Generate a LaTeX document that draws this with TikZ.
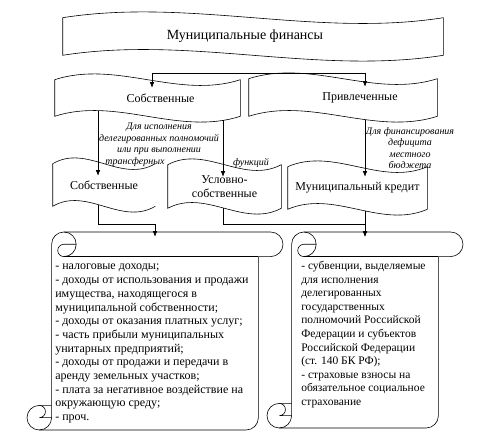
\documentclass[tikz,border=0pt]{standalone}
\usepackage{fontspec}
\setmainfont{Liberation Serif}
\usetikzlibrary{positioning,arrows.meta,calc}

\newcommand\wavepath[2][--]{%
\draw (#2.north west) .. controls ($(#2.north west)!1/3!(#2.north east)+(0,-20)$) and ($(#2.north west)!2/3!(#2.north east)+(0,20)$) .. (#2.north east) #1 (#2.south east) .. controls ($(#2.south west)!2/3!(#2.south east)+(0,20)$) and ($(#2.south west)!1/3!(#2.south east)+(0,-20)$) .. (#2.south west) -- (#2.north west);}

\newcommand\scrollpath[4]{%
\draw ({#1+24.6},{#4-24.6}) -- ({#1+24.6},{#2+12.3}) arc[start angle=180,delta angle=90,radius=12.3] -- ({#3-12.3},#2) arc[start angle=270,delta angle=180,radius=12.3] -- ({#3-24.6},{#2+24.6}) -- ({#3-24.6},{#4-12.3}) arc[start angle=0,delta angle=90,radius=12.3] -- ({#1+12.3},#4) arc[start angle=90,delta angle=180,radius=12.3] -- cycle;
\draw ({#1+36.9},#2) arc[start angle=270,delta angle=180,radius=12.3] arc[start angle=90,delta angle=180,radius=6.15] -- ({#1+49.2},{#2+12.3});
\draw ({#3-24.6},{#2+24.6}) -- ({#1+36.9},{#2+24.6});
\draw ({#1+12.3},{#4-24.6}) arc[start angle=270,delta angle=180,radius=6.15] -- ({#1+24.6},{#4-12.3});
\draw ({#1+12.3},#4) arc[start angle=90,delta angle=-90,radius=12.3] -- ({#1+24.6},{#4-24.6});}

\begin{document}
\begin{tikzpicture}[x=1pt,y=-1pt,line width=0.6pt,>={Latex[length=5.5pt,width=4.5pt]},wave/.style={inner sep=0pt,align=center,font=\fontsize{12}{13.5}\selectfont},lbl/.style={inner sep=0pt,align=center,font=\fontsize{10}{11.5}\selectfont\itshape},list/.style={anchor=north west,inner sep=0pt,align=left}]
\useasboundingbox (0,0) rectangle (483,438);
\node[wave,minimum width=380pt,minimum height=37pt,font=\fontsize{14}{16}\selectfont] (fin) at (253,36.5) {\hspace*{-16pt}Муниципальные финансы};
\node[wave,minimum width=185pt,minimum height=36pt] (own2) at (147.5,98) {\hspace*{26pt}Собственные};
\node[wave,minimum width=188pt,minimum height=37pt] (att2) at (343,97.5) {\hspace*{34pt}Привлеченные};
\node[wave,minimum width=102pt,minimum height=42pt] (own3) at (104,185) {Собственные};
\node[wave,minimum width=113pt,minimum height=43pt] (cond3) at (224.5,186.5) {Условно-\\собственные};
\node[wave,minimum width=139pt,minimum height=42pt] (cred3) at (357.5,188) {Муниципальный кредит};
\node[minimum width=256pt,minimum height=198pt] (lscroll) at (155,331) {};
\node[minimum width=196pt,minimum height=196pt] (rscroll) at (365,330) {};
\wavepath{fin}\wavepath{own2}\wavepath{att2}\wavepath[]{own3}\wavepath{cond3}\wavepath{cred3}
\scrollpath{27}{232}{283}{430}\scrollpath{267}{232}{463}{428}
\node[lbl] (lnote) at (159,145) {Для исполнения\\делегированных полномочий\\или при выполнении\\трансферных\makebox[48pt]{}};
\node[lbl] (fnote) at (251,163) {функций};
\node[lbl] (rnote) at (410,148) {Для финансирования\\дефицита\\местного\\бюджета};
\node[list,font=\fontsize{12}{13.7}\selectfont] (ltext) at (55,264) {- налоговые доходы;\\- доходы от использования и продажи\\имущества, находящегося в\\муниципальной собственности;\\- доходы от оказания платных услуг;\\- часть прибыли муниципальных\\унитарных предприятий;\\- доходы от продажи и передачи в\\аренду земельных участков;\\- плата за негативное воздействие на\\окружающую среду;\\- проч.};
\node[list,font=\fontsize{11.5}{13.6}\selectfont] (rtext) at (301,261) {- субвенции, выделяемые\\для исполнения\\делегированных\\государственных\\полномочий Российской\\Федерации и субъектов\\Российской Федерации\\(ст. 140 БК РФ);\\- страховые взносы на\\обязательное социальное\\страхование};
\coordinate (busl) at (152,73);\coordinate (busr) at (365,73);
\draw (busl)--(busr);
\draw[->,shorten >=-8pt] (busl)--(busl|-own2.north);\draw[->,shorten >=-8pt] (busr)--(busr|-att2.north);
\draw[->,shorten >=-12pt] ([xshift=-49.5pt,yshift=5.7pt]own2.south)--([xshift=-6pt]own3.north);
\draw[->,shorten >=-12pt] ([xshift=75.5pt,yshift=-4.1pt]own2.south)--([xshift=-1.5pt]cond3.north);
\draw[->,shorten >=-10pt] ([xshift=22pt,yshift=-3.3pt]att2.south)--([xshift=7.5pt]cred3.north);
\draw[->,shorten >=-5pt] ([xshift=-6pt,yshift=1.7pt]own3.south)--++(0,20)-|(lscroll.north);
\draw[->,shorten >=-5pt] ([xshift=-1.5pt]cond3.south)--++(0,16)-|(rscroll.north);
\draw[->,shorten >=-5pt] ([xshift=7.5pt,yshift=-1.6pt]cred3.south)--(rscroll.north);
\end{tikzpicture}
\end{document}
